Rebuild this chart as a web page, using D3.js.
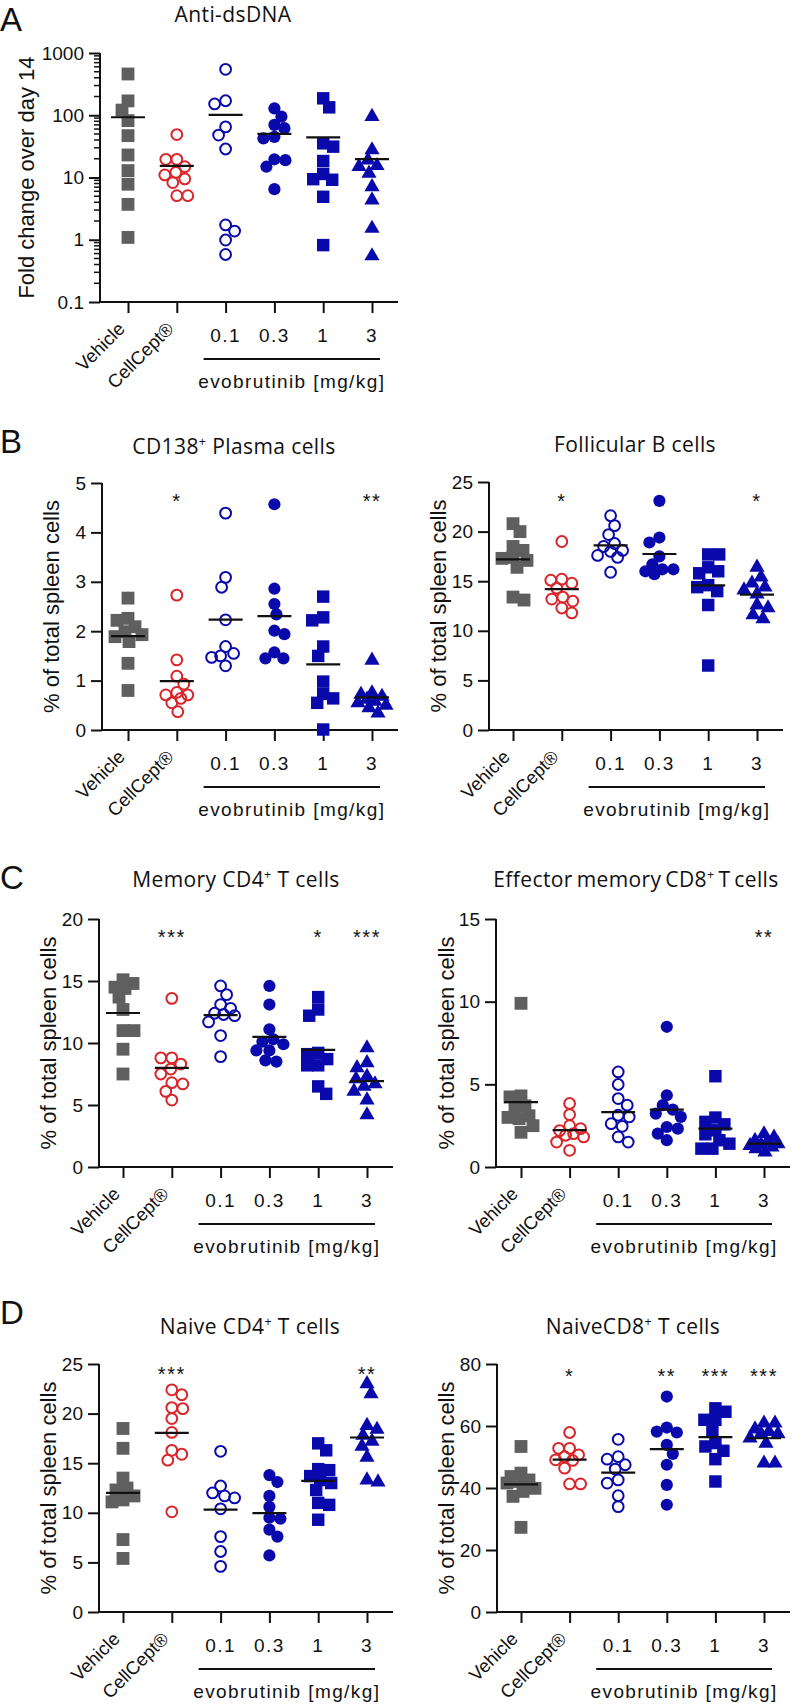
<!DOCTYPE html>
<html><head><meta charset="utf-8">
<script src="https://cdn.jsdelivr.net/npm/d3@7"></script>
<style>body{margin:0;background:#fff}svg{display:block}</style>
</head><body>
<svg id="c" width="792" height="1705"></svg>
<script>
// ---------------- DATA ----------------
const groups = ["Vehicle", "CellCept®", "0.1", "0.3", "1", "3"];
const doseLabels = ["0.1", "0.3", "1", "3"];
const doseAxisTitle = "evobrutinib [mg/kg]";
const yTitleA = "Fold change over day 14";
const yTitleCells = "% of total spleen cells";

const antiDsDNATicks = [0.1, 1, 10, 100, 1000];
const antiDsDNA = [
  [460, 170, 121, 82, 47, 23, 12.9, 7.8, 3.7, 1.09],
  [49, 19.6, 19.6, 14.9, 12.1, 11, 9.5, 8.3, 5.1, 5.1],
  [547, 171, 152, 65, 48, 28.7, 1.73, 1.38, 0.99, 0.58],
  [129, 95, 70, 62, 45, 42.6, 19.6, 19, 14.9, 6.5],
  [187, 134, 35.4, 31.3, 18.4, 11.4, 9.4, 9.2, 4.9, 0.82],
  [95, 27.7, 19.1, 15.5, 15, 11.7, 7.1, 4.35, 1.52, 0.55]
];
const antiDsDNAStars = ["", "", "", "", "", ""];

const plasmaTicks = [0, 1, 2, 3, 4, 5];
const plasma = [
  [2.67, 2.26, 2.22, 2.09, 1.99, 1.93, 1.89, 1.79, 1.35, 0.80],
  [2.73, 1.42, 1.09, 0.93, 0.76, 0.71, 0.71, 0.64, 0.55, 0.37],
  [4.39, 3.09, 2.89, 2.23, 1.69, 1.50, 1.55, 1.47, 1.30],
  [4.57, 2.86, 2.55, 2.34, 2.01, 1.94, 1.57, 1.45, 1.45],
  [2.70, 2.28, 2.22, 1.69, 1.50, 0.98, 0.73, 0.64, 0.55, 0.01],
  [1.41, 0.75, 0.72, 0.68, 0.62, 0.58, 0.55, 0.50, 0.45, 0.34]
];
const plasmaStars = ["", "*", "", "", "", "**"];

const follicularTicks = [0, 5, 10, 15, 20, 25];
const follicular = [
  [20.8, 20.0, 18.5, 18.1, 17.4, 17.3, 17.1, 16.4, 13.4, 13.1],
  [19.0, 15.2, 15.1, 14.8, 14.3, 13.4, 13.0, 13.2, 12.3, 11.8],
  [21.6, 20.6, 19.7, 18.8, 18.5, 18.1, 17.6, 17.4, 18.0, 15.9],
  [23.1, 19.4, 18.9, 17.5, 16.7, 16.2, 15.7, 16.2, 16.0],
  [17.7, 17.7, 16.4, 15.8, 16.0, 14.4, 14.6, 14.0, 12.6, 6.5],
  [16.4, 15.4, 14.8, 14.4, 14.1, 13.7, 12.3, 12.6, 11.6, 11.2]
];
const follicularStars = ["", "*", "", "", "", "*"];

const memoryCD4Ticks = [0, 5, 10, 15, 20];
const memoryCD4 = [
  [15.1, 14.8, 14.5, 14.4, 13.7, 12.7, 11.0, 11.0, 9.5, 7.5],
  [13.6, 8.8, 8.8, 8.3, 7.9, 7.5, 6.8, 6.7, 6.1, 5.4],
  [14.6, 13.9, 13.1, 12.8, 12.3, 12.4, 12.2, 11.7, 10.6, 8.9],
  [14.6, 13.1, 11.1, 10.3, 10.1, 9.9, 9.4, 9.4, 8.6, 8.5],
  [13.7, 12.7, 12.2, 9.2, 9.1, 8.7, 8.2, 8.2, 6.5, 5.9],
  [9.6, 8.4, 8.0, 7.3, 7.1, 6.7, 6.5, 6.1, 5.4, 4.2]
];
const memoryCD4Stars = ["", "***", "", "", "*", "***"];

const effMemCD8Ticks = [0, 5, 10, 15];
const effMemCD8 = [
  [9.9, 4.3, 4.24, 3.7, 3.5, 3.1, 3.0, 2.93, 2.5, 2.1],
  [3.84, 3.17, 2.5, 2.2, 2.32, 2.02, 1.92, 1.82, 1.51, 1.01],
  [5.75, 4.99, 4.14, 3.74, 3.13, 3.03, 2.62, 2.46, 1.82, 1.51],
  [8.48, 4.34, 3.74, 3.47, 3.23, 3.03, 2.42, 2.32, 2.02, 1.62],
  [5.49, 2.99, 2.73, 2.58, 2.22, 1.98, 1.62, 1.41, 1.11, 1.11],
  [2.0, 1.8, 1.6, 1.5, 1.4, 1.35, 1.3, 1.2, 1.1, 0.9]
];
const effMemCD8Stars = ["", "", "", "", "", "**"];

const naiveCD4Ticks = [0, 5, 10, 15, 20, 25];
const naiveCD4 = [
  [18.5, 16.5, 13.5, 12.5, 12.3, 11.7, 11.3, 11.1, 7.3, 5.4],
  [22.4, 21.9, 20.6, 20.5, 19.5, 18.1, 16.3, 15.9, 15.3, 10.1],
  [16.2, 12.7, 11.7, 12.0, 11.5, 10.4, 7.6, 6.1, 4.6],
  [13.8, 13.1, 11.7, 10.6, 9.5, 9.4, 8.3, 7.6, 5.7],
  [17.0, 16.3, 14.4, 14.3, 13.7, 13.0, 13.3, 12.3, 11.0, 10.8, 9.3],
  [23.0, 22.0, 18.4, 18.8, 17.8, 17.2, 16.7, 15.6, 13.1, 13.3]
];
const naiveCD4Stars = ["", "***", "", "", "", "**"];

const naiveCD8Ticks = [0, 20, 40, 60, 80];
const naiveCD8 = [
  [53.4, 44.8, 43.7, 42.6, 42.1, 41.6, 39.9, 38.9, 37.3, 27.3],
  [57.9, 52.8, 52.8, 50.7, 50.1, 49.1, 48.9, 46.4, 41.3, 41.3],
  [55.7, 50.1, 49.3, 47.5, 46.1, 42.6, 41.6, 37.5, 34.0],
  [69.5, 59.5, 57.9, 58.2, 53.9, 51.0, 47.5, 41.0, 34.6],
  [65.7, 64.6, 62.0, 62.0, 58.7, 54.5, 53.4, 49.3, 42.1, 52],
  [60.9, 60.9, 59.0, 58.2, 57.5, 57.5, 56.1, 54.4, 48.0, 48.0]
];
const naiveCD8Stars = ["", "*", "", "**", "***", "***"];

// ---------------- STYLE / LAYOUT ----------------
const GRAY = "#5f5f5f", RED = "#d8262a", BLUE = "#0a0aac";
const markers = [
  {type: d3.symbolSquare, fill: GRAY, size: 165},
  {type: "circle", fill: "none", stroke: RED, r: 5.4},
  {type: "circle", fill: "none", stroke: BLUE, r: 5.4},
  {type: "circle", fill: BLUE, stroke: "none", r: 6.1},
  {type: d3.symbolSquare, fill: BLUE, size: 155},
  {type: d3.symbolTriangle, fill: BLUE, size: 100}
];

const AXF = "'Liberation Sans', Arial, sans-serif";
const TF = "'Open Sans', 'Noto Sans', sans-serif";

const panels = [
  {letter: "A", title: ["Anti-dsDNA"], data: antiDsDNA, ticks: antiDsDNATicks, stars: antiDsDNAStars, log: true,
   yTitle: yTitleA, ax: 100, top: 53, bottom: 302, x0: 128, x1: 372, tx: 233, ty: 22, letterY: 31, ylabOff: 74, starY: 0},
  {letter: "B", title: ["CD138", "+", " Plasma cells"], data: plasma, ticks: plasmaTicks, stars: plasmaStars,
   yTitle: yTitleCells, ax: 102, top: 483, bottom: 730, x0: 128, x1: 372, tx: 234, ty: 454, letterY: 453, ylabOff: 51, starY: 497},
  {title: ["Follicular B cells"], data: follicular, ticks: follicularTicks, stars: follicularStars,
   yTitle: yTitleCells, ax: 489, top: 482, bottom: 730, x0: 513, x1: 757, tx: 635, ty: 452, ylabOff: 51, starY: 497},
  {letter: "C", title: ["Memory CD4", "+", " T cells"], data: memoryCD4, ticks: memoryCD4Ticks, stars: memoryCD4Stars,
   yTitle: yTitleCells, ax: 99, top: 919, bottom: 1167, x0: 123, x1: 367, tx: 236, ty: 887, letterY: 889, ylabOff: 51, starY: 933},
  {title: ["Effector memory CD8", "+", " T cells"], data: effMemCD8, ticks: effMemCD8Ticks, stars: effMemCD8Stars,
   yTitle: yTitleCells, ax: 496, top: 919, bottom: 1167, x0: 521, x1: 764, tx: 636, ty: 887, ylabOff: 50, starY: 933, ws: -2},
  {letter: "D", title: ["Naive CD4", "+", " T cells"], data: naiveCD4, ticks: naiveCD4Ticks, stars: naiveCD4Stars,
   yTitle: yTitleCells, ax: 99, top: 1364, bottom: 1612, x0: 123, x1: 367, tx: 250, ty: 1334, letterY: 1324, ylabOff: 51, starY: 1370},
  {title: ["NaiveCD8", "+", " T cells"], data: naiveCD8, ticks: naiveCD8Ticks, stars: naiveCD8Stars,
   yTitle: yTitleCells, ax: 497, top: 1364, bottom: 1612, x0: 521, x1: 764, tx: 633, ty: 1334, ylabOff: 51, starY: 1372}
];

const svg = d3.select("#c");

// compact scatter-dot layout (points spread sideways only when they collide)
function swarm(vals, y, D, maxOff) {
  const order = vals.map((v, i) => i).sort((a, b) => vals[b] - vals[a]);
  const placed = [], off = new Array(vals.length);
  order.forEach((i, n) => {
    const py = y(vals[i]);
    let found = null, bestO = 0, bestD = -1;
    for (let k = 0; k <= maxOff && found === null; k++) {
      const c = k === 0 ? [0] : (n % 2 ? [k, -k] : [-k, k]);
      for (const o of c) {
        const md = placed.length ? d3.min(placed, p => Math.hypot(p.x - o, p.y - py)) : 1e9;
        if (md >= D) { found = o; break; }
        if (md > bestD) { bestD = md; bestO = o; }
      }
    }
    const o = found === null ? bestO : found;
    placed.push({x: o, y: py});
    off[i] = o;
  });
  return off;
}

panels.forEach(p => {
  const g = svg.append("g");
  const x = d3.scalePoint().domain(groups).range([p.x0, p.x1]);
  const y = p.log
    ? d3.scaleLog().domain([0.1, 1000]).range([p.bottom, p.top])
    : d3.scaleLinear().domain([0, d3.max(p.ticks)]).range([p.bottom, p.top]);

  if (p.letter) {
    g.append("text").attr("x", 0).attr("y", p.letterY).text(p.letter)
      .attr("font-family", AXF).attr("font-size", 33).attr("fill", "#111");
  }
  const t = g.append("text").attr("x", p.tx).attr("y", p.ty).attr("text-anchor", "middle")
    .attr("font-family", TF).attr("font-size", 21).attr("letter-spacing", 0.4)
    .attr("word-spacing", p.ws || 0).attr("fill", "#111");
  p.title.forEach((s, i) => {
    const ts = t.append("tspan").text(s);
    if (s === "+") ts.attr("font-size", 12.5).attr("dy", -8);
    else if (i > 0) ts.attr("dy", 8);
  });

  // y axis
  const yAxis = d3.axisLeft(y).tickValues(p.ticks).tickSize(11).tickPadding(5)
    .tickFormat(d => String(d));
  const ya = g.append("g").attr("transform", `translate(${p.ax},0)`).call(yAxis);
  ya.select(".domain").attr("d", `M0,${p.top}V${p.bottom}`);
  ya.selectAll("path,line").attr("stroke", "#111").attr("stroke-width", 2);
  ya.selectAll("text").attr("font-family", AXF).attr("font-size", 19).attr("fill", "#111");
  if (p.log) {
    const minor = [];
    [0.1, 1, 10, 100].forEach(dec => d3.range(2, 10).forEach(m => minor.push(m * dec)));
    ya.selectAll(".minor").data(minor).join("line").attr("class", "minor")
      .attr("x1", -6).attr("x2", 0).attr("y1", d => y(d)).attr("y2", d => y(d))
      .attr("stroke", "#111").attr("stroke-width", 1.5);
  }
  const yc = (p.top + p.bottom) / 2, yx = p.ax - p.ylabOff;
  g.append("text").attr("transform", `translate(${yx},${yc}) rotate(-90)`)
    .attr("text-anchor", "middle").attr("dominant-baseline", "central")
    .attr("font-family", AXF).attr("font-size", 22).attr("fill", "#111").text(p.yTitle);

  // x axis
  const xAxis = d3.axisBottom(x).tickSize(11).tickFormat("");
  const xa = g.append("g").attr("transform", `translate(0,${p.bottom})`).call(xAxis);
  xa.select(".domain").attr("d", `M${p.ax},0H${p.x1 + 26}`);
  xa.selectAll("path,line").attr("stroke", "#111").attr("stroke-width", 2);

  groups.slice(0, 2).forEach(gname => {
    g.append("text").attr("transform", `translate(${x(gname) - 2},${p.bottom + 28}) rotate(-45)`)
      .attr("text-anchor", "end").attr("font-family", AXF).attr("font-size", 18.5)
      .attr("fill", "#111").text(gname);
  });
  doseLabels.forEach(d => {
    g.append("text").attr("x", x(d)).attr("y", p.bottom + 33).attr("dominant-baseline", "central")
      .attr("text-anchor", "middle").attr("font-family", AXF).attr("font-size", 19)
      .attr("letter-spacing", 1.5).attr("fill", "#111").text(d);
  });
  const lineY = p.bottom + 57;
  g.append("line").attr("x1", x("0.1") - 22).attr("x2", x("3") + 8)
    .attr("y1", lineY).attr("y2", lineY).attr("stroke", "#111").attr("stroke-width", 2);
  g.append("text").attr("x", (x("0.1") - 22 + x("3") + 8) / 2).attr("y", p.bottom + 79)
    .attr("dominant-baseline", "central").attr("text-anchor", "middle")
    .attr("font-family", AXF).attr("font-size", 19).attr("letter-spacing", 1.4)
    .attr("fill", "#111").text(doseAxisTitle);

  // points, mean lines, significance stars
  p.data.forEach((vals, gi) => {
    const cx = x(groups[gi]);
    const m = markers[gi];
    const offs = swarm(vals, y, 10.5, 14);
    vals.forEach((v, i) => {
      const px = cx + offs[i], py = y(v);
      if (m.type === "circle") {
        g.append("circle").attr("cx", px).attr("cy", py).attr("r", m.r)
          .attr("fill", m.fill).attr("stroke", m.stroke).attr("stroke-width", 2);
      } else {
        g.append("path").attr("d", d3.symbol().type(m.type).size(m.size)())
          .attr("transform", `translate(${px},${py})`).attr("fill", m.fill);
      }
    });
    const my = y(d3.mean(vals));
    g.append("line").attr("x1", cx - 17).attr("x2", cx + 17).attr("y1", my).attr("y2", my)
      .attr("stroke", "#111").attr("stroke-width", 2.2);
    if (p.stars[gi]) {
      g.append("text").attr("x", cx).attr("y", p.starY + 11).attr("text-anchor", "middle")
        .attr("font-family", AXF).attr("font-size", 20).attr("letter-spacing", 1.5)
        .attr("fill", "#111").text(p.stars[gi]);
    }
  });
});
</script>
</body></html>
